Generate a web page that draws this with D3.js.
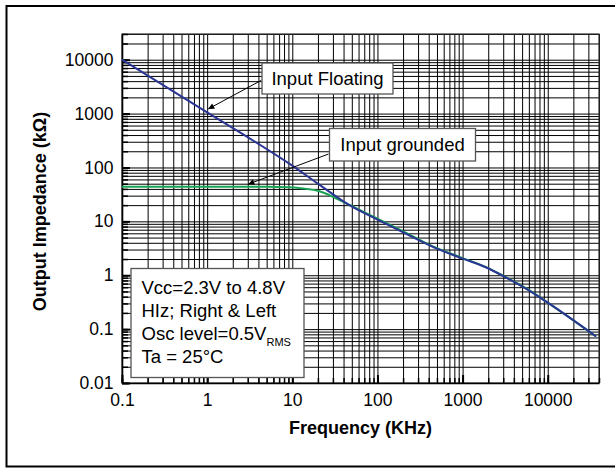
<!DOCTYPE html>
<html>
<head>
<meta charset="utf-8">
<script src="https://cdn.jsdelivr.net/npm/d3@7"></script>
<style>
  body { margin: 0; background: #fff; }
  svg text { font-family: "Liberation Sans", Arial, sans-serif; fill: #000; }
</style>
</head>
<body>
<div id="chart"></div>
<script>
// frequency (kHz) / output impedance (kOhm)
var freqFloat = [0.1, 1, 10, 20, 48, 100, 190, 460, 950, 2050, 3100, 5800, 10000, 37000];
var zFloat    = [10000, 1050, 108, 50, 19.5, 10.8, 6.5, 3.3, 2.1, 1.32, 0.94, 0.54, 0.31, 0.073];

var freqGround = [0.1, 1, 5, 9.5, 14, 20, 34, 48, 100, 190, 460, 950, 2050, 3100, 5800, 10000, 37000];
var zGround    = [44, 44, 44, 43, 40.5, 37, 26, 19.9, 11.2, 6.8, 3.35, 2.15, 1.33, 0.95, 0.55, 0.31, 0.073];

var xTickLabels = ["0.1", "1", "10", "100", "1000", "10000"];
var yTickLabels = ["0.01", "0.1", "1", "10", "100", "1000", "10000"];

var notes = ["Vcc=2.3V to 4.8V", "HIz; Right & Left", "Osc level=0.5V", "Ta = 25\u00B0C"];

const W = 615, H = 468;
const mLeft = 122, mTop = 34, mRight = 599, mBottom = 383;

var svg = d3.select("#chart").append("svg")
    .attr("width", W)
    .attr("height", H);

// outer frame
svg.append("rect")
    .attr("x", 6.5).attr("y", 6)
    .attr("width", 612).attr("height", 460.5)
    .attr("fill", "none").attr("stroke", "#000").attr("stroke-width", 2);

var x = d3.scaleLog().domain([0.1, 40000]).range([mLeft, mRight]);
var y = d3.scaleLog().domain([0.01, 30000]).range([mBottom, mTop]);

// grid values: 1..9 per decade
function gridValues(lo, hi) {
    var out = [];
    for (var e = Math.floor(Math.log10(lo)); e <= Math.ceil(Math.log10(hi)); e++) {
        for (var k = 1; k <= 9; k++) {
            var v = +(k * Math.pow(10, e)).toPrecision(3);
            if (v >= lo && v <= hi) out.push(v);
        }
    }
    return out;
}
var xGrid = gridValues(0.1, 40000);
var yGrid = gridValues(0.01, 30000);
var xMajor = xTickLabels.map(Number);
var yMajor = yTickLabels.map(Number);

// grid lines
svg.append("g")
    .attr("transform", "translate(0," + mBottom + ")")
    .call(d3.axisBottom(x).tickValues(xGrid).tickSize(-(mBottom - mTop)).tickFormat(""))
    .call(g => g.select(".domain").remove())
    .call(g => g.selectAll("line").attr("stroke", "#000").attr("stroke-width", 1));

svg.append("g")
    .attr("transform", "translate(" + mLeft + ",0)")
    .call(d3.axisLeft(y).tickValues(yGrid).tickSize(-(mRight - mLeft)).tickFormat(""))
    .call(g => g.select(".domain").remove())
    .call(g => g.selectAll("line").attr("stroke", "#000").attr("stroke-width", 1));

// plot border
svg.append("rect")
    .attr("x", mLeft).attr("y", mTop)
    .attr("width", mRight - mLeft).attr("height", mBottom - mTop)
    .attr("fill", "none").attr("stroke", "#333").attr("stroke-width", 1.2);

// inward minor ticks
svg.append("g")
    .attr("transform", "translate(0," + mBottom + ")")
    .call(d3.axisBottom(x).tickValues(xGrid).tickSizeInner(-5).tickSizeOuter(0).tickFormat(""))
    .call(g => g.select(".domain").remove())
    .call(g => g.selectAll("line").attr("stroke-width", 1.5));
svg.append("g")
    .attr("transform", "translate(" + mLeft + ",0)")
    .call(d3.axisLeft(y).tickValues(yGrid).tickSizeInner(-6).tickSizeOuter(0).tickFormat(""))
    .call(g => g.select(".domain").remove())
    .call(g => g.selectAll("line").attr("stroke-width", 1.5));

// major ticks + labels
var xAxis = svg.append("g")
    .attr("transform", "translate(0," + mBottom + ")")
    .call(d3.axisBottom(x).tickValues(xMajor).tickSizeInner(-8).tickSizeOuter(0).tickPadding(10.5)
        .tickFormat((d, i) => xTickLabels[i]));
xAxis.select(".domain").attr("stroke-width", 1.6);
xAxis.selectAll("line").attr("stroke-width", 2);
xAxis.selectAll("text").attr("font-size", 17.5).attr("font-family", "Liberation Sans, Arial, sans-serif");

var yAxis = svg.append("g")
    .attr("transform", "translate(" + mLeft + ",0)")
    .call(d3.axisLeft(y).tickValues(yMajor).tickSizeInner(-8).tickSizeOuter(0).tickPadding(8.5)
        .tickFormat((d, i) => yTickLabels[i]));
yAxis.select(".domain").attr("stroke-width", 1.6);
yAxis.selectAll("line").attr("stroke-width", 2);
yAxis.selectAll("text").attr("font-size", 17.5).attr("font-family", "Liberation Sans, Arial, sans-serif");

// axis titles
svg.append("text")
    .attr("x", (mLeft + mRight) / 2).attr("y", 434)
    .attr("text-anchor", "middle")
    .attr("font-size", 18).attr("font-weight", "bold")
    .text("Frequency (KHz)");

svg.append("text")
    .attr("transform", "translate(46," + ((mTop + mBottom) / 2 + 3) + ") rotate(-90)")
    .attr("text-anchor", "middle")
    .attr("font-size", 18).attr("font-weight", "bold")
    .text("Output Impedance (k\u03A9)");

// curves
var line = d3.line()
    .x(d => x(d[0]))
    .y(d => y(d[1]))
    .curve(d3.curveMonotoneX);

svg.append("path")
    .datum(freqGround.map((f, i) => [f, zGround[i]]))
    .attr("d", line)
    .attr("fill", "none").attr("stroke", "#1aa355").attr("stroke-width", 2);

svg.append("path")
    .datum(freqFloat.map((f, i) => [f, zFloat[i]]))
    .attr("d", line)
    .attr("fill", "none").attr("stroke", "#2b3593").attr("stroke-width", 2);

// arrow marker
svg.append("defs").append("marker")
    .attr("id", "arr")
    .attr("viewBox", "0 0 10 10")
    .attr("refX", 10).attr("refY", 5)
    .attr("markerWidth", 9).attr("markerHeight", 6)
    .attr("markerUnits", "userSpaceOnUse")
    .attr("orient", "auto")
  .append("path")
    .attr("d", "M0,0L10,5L0,10z")
    .attr("fill", "#000");

// callouts: box + arrow to a point on the curve
var callouts = [
    {label: "Input Floating", box: [262, 63, 131, 31], from: [261, 80.5], to: [1.03, 1220]},
    {label: "Input grounded", box: [329.5, 128.5, 146, 32.5], from: [328.5, 154], to: [3.04, 49]}
];
callouts.forEach(function(c) {
    svg.append("line")
        .attr("x1", c.from[0]).attr("y1", c.from[1])
        .attr("x2", x(c.to[0])).attr("y2", y(c.to[1]))
        .attr("stroke", "#000").attr("stroke-width", 1)
        .attr("marker-end", "url(#arr)");
    svg.append("rect")
        .attr("x", c.box[0]).attr("y", c.box[1])
        .attr("width", c.box[2]).attr("height", c.box[3])
        .attr("fill", "#fff").attr("stroke", "#555").attr("stroke-width", 1.3);
    svg.append("text")
        .attr("x", c.box[0] + c.box[2] / 2).attr("y", c.box[1] + 22)
        .attr("text-anchor", "middle")
        .attr("font-size", 18.5)
        .text(c.label);
});

// conditions box
svg.append("rect")
    .attr("x", 131).attr("y", 268.5)
    .attr("width", 173).attr("height", 109)
    .attr("fill", "#fff").attr("stroke", "#555").attr("stroke-width", 1.3);

var noteText = svg.append("g").attr("font-size", 18.5);
notes.forEach(function(t, i) {
    var tx = noteText.append("text")
        .attr("x", 141.5).attr("y", 294 + i * 23)
        .text(t);
    if (i === 2) {
        tx.append("tspan")
            .attr("font-size", 11)
            .attr("dy", 5.5)
            .text("RMS");
    }
});
</script>
</body>
</html>
